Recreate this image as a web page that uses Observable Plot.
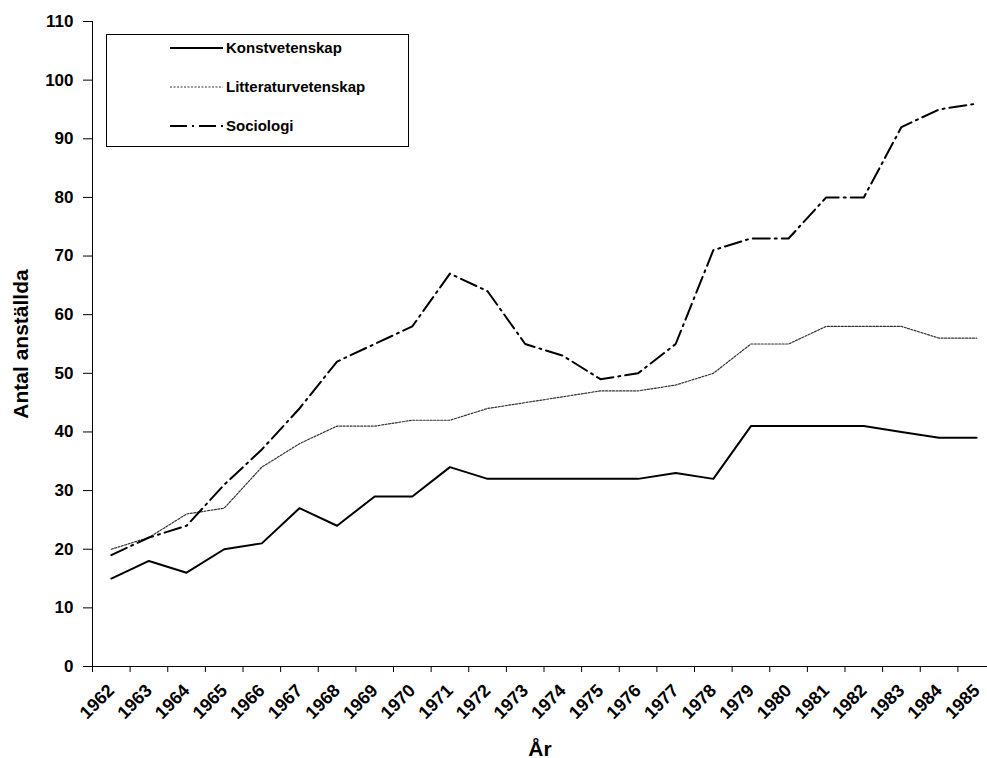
<!DOCTYPE html>
<html>
<head>
<meta charset="utf-8">
<script src="https://cdn.jsdelivr.net/npm/d3@7"></script>
<script src="https://cdn.jsdelivr.net/npm/@observablehq/plot@0.6"></script>
<style>
  html, body { margin: 0; padding: 0; background: #fff; overflow: hidden; }
  #chart svg { display: block; overflow: hidden; }
</style>
</head>
<body>
<div id="chart"></div>
<script>
const years = [1962,1963,1964,1965,1966,1967,1968,1969,1970,1971,1972,1973,1974,1975,1976,1977,1978,1979,1980,1981,1982,1983,1984,1985];
const konstvetenskap = [15,18,16,20,21,27,24,29,29,34,32,32,32,32,32,33,32,41,41,41,41,40,39,39];
const litteraturvetenskap = [20,22,26,27,34,38,41,41,42,42,44,45,46,47,47,48,50,55,55,58,58,58,56,56];
const sociologi = [19,22,24,31,37,44,52,55,58,67,64,55,53,49,50,55,71,73,73,80,80,92,95,96];
const seriesNames = ["Konstvetenskap", "Litteraturvetenskap", "Sociologi"];
const yTicks = [0,10,20,30,40,50,60,70,80,90,100,110];
const yLabel = "Antal anställda";
const xLabel = "År";

const toRows = (vals) => years.map((y, i) => ({year: y, value: vals[i]}));
const boundaries = years.map(y => y - 0.5).concat([years[years.length - 1] + 0.5]);

const font = "'Liberation Sans', Arial, sans-serif";
const styles = [
  {stroke: "#000", strokeWidth: 2, strokeDasharray: null},
  {stroke: "#333", strokeWidth: 1.2, strokeDasharray: "2,1.5"},
  {stroke: "#000", strokeWidth: 2, strokeDasharray: "17,5,2,5"}
];

const chart = Plot.plot({
  width: 987,
  height: 758,
  marginLeft: 92,
  marginTop: 21,
  marginBottom: 92,
  marginRight: 0,
  style: {fontFamily: font, fontSize: "17px", background: "#fff", color: "#000"},
  x: {domain: [1961.5, 1985.5], range: [92, 995]},
  y: {domain: [0, 110], range: [666, 21]},
  marks: [
    Plot.ruleX([1961.5], {y1: 0, y2: 110, stroke: "#000", strokeWidth: 1}),
    Plot.ruleY([0], {x1: 1961.5, x2: 1985.5, stroke: "#000", strokeWidth: 1}),
    Plot.axisY({ticks: yTicks, tickSize: 9, tickPadding: 10, fontSize: 17, fontWeight: "bold", label: null, stroke: "#000"}),
    Plot.axisX({ticks: boundaries, tickSize: 6, tickFormat: () => "", label: null}),
    Plot.axisX({ticks: years, tickSize: 0, tickPadding: 21, tickRotate: -45, tickFormat: d => String(d), fontSize: 18, fontWeight: "bold", label: null}),
    Plot.line(toRows(konstvetenskap), {x: "year", y: "value", ...styles[0]}),
    Plot.line(toRows(litteraturvetenskap), {x: "year", y: "value", ...styles[1]}),
    Plot.line(toRows(sociologi), {x: "year", y: "value", ...styles[2]}),
    Plot.text([yLabel], {frameAnchor: "left", textAnchor: "middle", rotate: -90, dx: -71, fontSize: 21, fontWeight: "bold", text: d => d}),
    Plot.text([xLabel], {frameAnchor: "bottom", lineAnchor: "bottom", dy: 89, fontSize: 21, fontWeight: "bold", text: d => d})
  ]
});

// Legend drawn inside the SVG
const svg = d3.select(chart);
const lg = svg.append("g").attr("font-family", font).attr("text-anchor", "start");
lg.append("rect").attr("x", 106.5).attr("y", 34.5).attr("width", 302).attr("height", 112)
  .attr("fill", "#fff").attr("stroke", "#000").attr("stroke-width", 1);
const rowsY = [48, 87, 126];
seriesNames.forEach((name, i) => {
  const s = styles[i];
  const ln = lg.append("line").attr("x1", 170).attr("x2", 223).attr("y1", rowsY[i]).attr("y2", rowsY[i])
    .attr("stroke", s.stroke).attr("stroke-width", s.strokeWidth);
  if (s.strokeDasharray) ln.attr("stroke-dasharray", s.strokeDasharray);
  lg.append("text").attr("x", 226).attr("y", rowsY[i]).attr("dy", "0.35em").attr("text-anchor", "start")
    .attr("font-size", 15).attr("font-weight", "bold").attr("fill", "#000").text(name);
});

document.getElementById("chart").appendChild(chart);
</script>
</body>
</html>
